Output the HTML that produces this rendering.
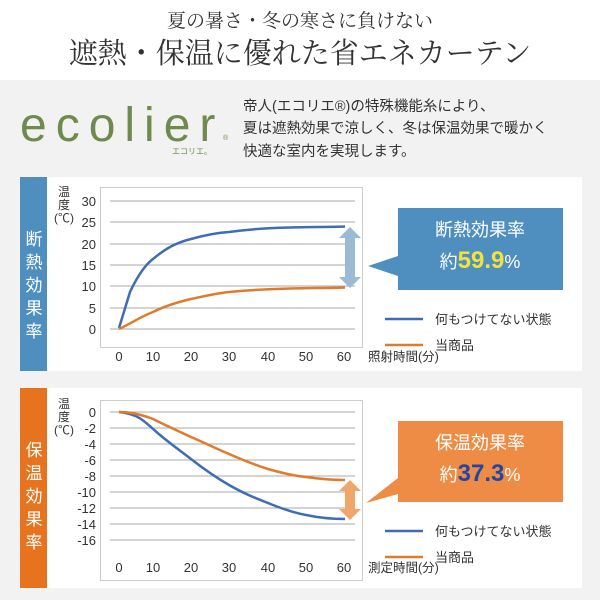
<!DOCTYPE html>
<html><head><meta charset="utf-8"><style>
html,body{margin:0;padding:0;width:600px;height:600px;overflow:hidden;background:#f2f2f2}
svg{display:block}
.s{font-family:"Liberation Serif","Noto Serif CJK SC",serif}
.g{font-family:"Liberation Sans","Noto Sans CJK JP",sans-serif}
</style></head><body>
<svg width="600" height="600" viewBox="0 0 600 600" xmlns="http://www.w3.org/2000/svg">
<rect x="0" y="0" width="600" height="80" fill="#fff"/>
<text x="300" y="27" text-anchor="middle" class="s" font-size="19" fill="#333">夏の暑さ・冬の寒さに負けない</text>
<text x="300" y="63" text-anchor="middle" class="s" font-size="29" fill="#333">遮熱・保温に優れた省エネカーテン</text>
<text x="20" y="141" class="g" font-size="48" fill="#6e8a4c" letter-spacing="9">ecolier</text>
<text x="223" y="140" class="g" font-size="7" fill="#6e8a4c">®</text>
<text x="172" y="154" class="g" font-size="8" fill="#6e8a4c">エコリエ。</text>
<g class="g" font-size="14.5" fill="#333">
<text x="243" y="111">帝人(エコリエ®)の特殊機能糸により、</text>
<text x="243" y="133">夏は遮熱効果で涼しく、冬は保温効果で暖かく</text>
<text x="243" y="156">快適な室内を実現します。</text>
</g>
<!-- top panel -->
<rect x="20" y="177" width="562" height="194" fill="#fff"/>
<rect x="20" y="177" width="27" height="194" fill="#4e8fc0"/>
<g class="g" font-size="17" fill="#fff" text-anchor="middle">
<text x="34" y="245">断</text><text x="34" y="268">熱</text><text x="34" y="291">効</text><text x="34" y="314">果</text><text x="34" y="337">率</text>
</g>
<rect x="100.5" y="187.5" width="262" height="160" fill="none" stroke="#ccc"/>
<g stroke="#aaa" stroke-width="1">
<line x1="110" x2="355" y1="201" y2="201"/><line x1="110" x2="355" y1="222" y2="222"/><line x1="110" x2="355" y1="244" y2="244"/><line x1="110" x2="355" y1="265" y2="265"/><line x1="110" x2="355" y1="286" y2="286"/><line x1="110" x2="355" y1="308" y2="308"/><line x1="110" x2="355" y1="329" y2="329"/>
</g>
<g class="g" font-size="13" fill="#333" text-anchor="end">
<text x="96" y="206">30</text><text x="96" y="227">25</text><text x="96" y="249">20</text><text x="96" y="270">15</text><text x="96" y="291">10</text><text x="96" y="313">5</text><text x="96" y="334">0</text>
</g>
<g class="g" font-size="12" fill="#333" text-anchor="middle">
<text x="64" y="196">温</text><text x="64" y="209">度</text><text x="64" y="222">(℃)</text>
</g>
<g class="g" font-size="13" fill="#333" text-anchor="middle">
<text x="119" y="361">0</text><text x="153" y="361">10</text><text x="191" y="361">20</text><text x="229" y="361">30</text><text x="268" y="361">40</text><text x="306" y="361">50</text><text x="344" y="361">60</text>
</g>
<text x="368" y="361" class="g" font-size="12.5" fill="#333">照射時間(分)</text>
<path d="M119,328 L130,292 C138,275 145,265 153,259 C165,249 175,243 191,239 C205,235 215,233 229,232 C250,229 268,228 290,227.5 C310,227 330,227 345,226.5" fill="none" stroke="#3e6db5" stroke-width="2.5" stroke-linejoin="round"/>
<path d="M119,329 C132,323 142,316 153,312 C165,306 178,302 191,299 C205,296 218,293 229,292 C250,290 268,289 290,288.5 C310,288 330,288 345,287.5" fill="none" stroke="#e07b2b" stroke-width="2.5"/>
<path d="M350,227 L361,238 L355,238 L355,277 L361,277 L350,288 L339,277 L345,277 L345,238 L339,238 Z" fill="#9dbad4"/>
<path d="M398,208 L563,208 L563,290 L398,290 L398,276 L368,266 L398,256 Z" fill="#4e8fc0"/>
<text x="480" y="236" text-anchor="middle" class="g" font-size="18" fill="#fff">断熱効果率</text>
<text x="480" y="268" text-anchor="middle" class="g" fill="#fff"><tspan font-size="18">約</tspan><tspan font-size="24" font-weight="bold" fill="#f4e23a">59.9</tspan><tspan font-size="18">%</tspan></text>
<line x1="385" x2="423" y1="319" y2="319" stroke="#3e6db5" stroke-width="2.5"/>
<line x1="385" x2="423" y1="345" y2="345" stroke="#e07b2b" stroke-width="2.5"/>
<text x="435" y="324" class="g" font-size="13" fill="#333">何もつけてない状態</text>
<text x="435" y="350" class="g" font-size="13" fill="#333">当商品</text>
<!-- bottom panel -->
<rect x="20" y="388" width="562" height="200" fill="#fff"/>
<rect x="20" y="388" width="27" height="200" fill="#e8731e"/>
<g class="g" font-size="17" fill="#fff" text-anchor="middle">
<text x="34" y="456">保</text><text x="34" y="479">温</text><text x="34" y="502">効</text><text x="34" y="525">果</text><text x="34" y="548">率</text>
</g>
<rect x="100.5" y="400.5" width="262" height="180" fill="none" stroke="#ccc"/>
<g stroke="#aaa" stroke-width="1">
<line x1="110" x2="355" y1="412" y2="412"/><line x1="110" x2="355" y1="428" y2="428"/><line x1="110" x2="355" y1="444" y2="444"/><line x1="110" x2="355" y1="460" y2="460"/><line x1="110" x2="355" y1="476" y2="476"/><line x1="110" x2="355" y1="492" y2="492"/><line x1="110" x2="355" y1="508" y2="508"/><line x1="110" x2="355" y1="524" y2="524"/><line x1="110" x2="355" y1="540" y2="540"/>
</g>
<g class="g" font-size="13" fill="#333" text-anchor="end">
<text x="96" y="417">0</text><text x="96" y="433">-2</text><text x="96" y="449">-4</text><text x="96" y="465">-6</text><text x="96" y="481">-8</text><text x="96" y="497">-10</text><text x="96" y="513">-12</text><text x="96" y="529">-14</text><text x="96" y="545">-16</text>
</g>
<g class="g" font-size="12" fill="#333" text-anchor="middle">
<text x="64" y="408">温</text><text x="64" y="421">度</text><text x="64" y="434">(℃)</text>
</g>
<g class="g" font-size="13" fill="#333" text-anchor="middle">
<text x="119" y="572">0</text><text x="153" y="572">10</text><text x="191" y="572">20</text><text x="229" y="572">30</text><text x="268" y="572">40</text><text x="306" y="572">50</text><text x="344" y="572">60</text>
</g>
<text x="368" y="572" class="g" font-size="12.5" fill="#333">測定時間(分)</text>
<path d="M119,412 C128,413 135,415 141,419 C148,424 153,429 160,435 C172,445 182,452 191,459 C205,470 217,478 229,485 C245,494 255,498 268,503 C285,510 295,513 306,515 C320,518 335,519 345,519" fill="none" stroke="#3e6db5" stroke-width="2.5"/>
<path d="M119,412 C130,412 140,414 153,419 C165,425 178,431 191,437 C205,443 217,449 229,454 C245,461 255,465 268,469 C282,473 295,476 306,477 C320,479 335,480 345,480" fill="none" stroke="#e07b2b" stroke-width="2.5"/>
<path d="M350,480 L361,491 L355,491 L355,509 L361,509 L350,520 L339,509 L345,509 L345,491 L339,491 Z" fill="#f0a66a"/>
<path d="M398,421 L563,421 L563,502 L398,502 L398,494 L366,503 L398,478 Z" fill="#ee8b44"/>
<text x="480" y="449" text-anchor="middle" class="g" font-size="18" fill="#fff">保温効果率</text>
<text x="480" y="481" text-anchor="middle" class="g" fill="#fff"><tspan font-size="18">約</tspan><tspan font-size="24" font-weight="bold" fill="#2147a6">37.3</tspan><tspan font-size="18">%</tspan></text>
<line x1="385" x2="423" y1="531" y2="531" stroke="#3e6db5" stroke-width="2.5"/>
<line x1="385" x2="423" y1="557" y2="557" stroke="#e07b2b" stroke-width="2.5"/>
<text x="435" y="536" class="g" font-size="13" fill="#333">何もつけてない状態</text>
<text x="435" y="562" class="g" font-size="13" fill="#333">当商品</text>
</svg>
</body></html>
